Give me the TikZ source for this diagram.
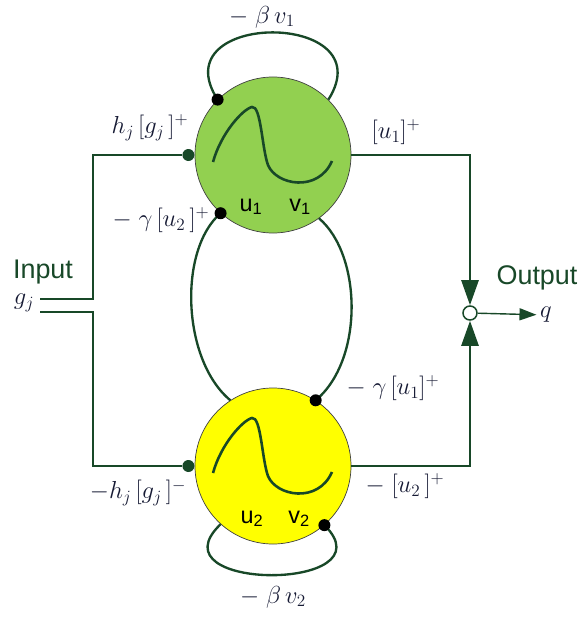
\RequirePackage{fix-cm}
\documentclass[tikz,border=0pt]{standalone}
\usepackage{fontspec}
\newfontfamily\arialfont{Liberation Sans}
\usepackage{xcolor}
\usetikzlibrary{arrows.meta,positioning}
\definecolor{wiregreen}{RGB}{24,72,40}
\definecolor{cellgreen}{RGB}{146,208,80}
\definecolor{cellyellow}{RGB}{255,255,0}
\definecolor{ink}{RGB}{22,26,52}
\tikzset{
  neuron/.style  ={circle,draw=black!75,line width=0.6pt,minimum size=4.68cm,inner sep=0pt},
  wire/.style    ={line width=2.2pt,wiregreen},
  selfloop/.style={line width=2pt,wiregreen},
  bdot/.style    ={circle,fill=black,minimum size=0.36cm,inner sep=0pt},
  wdot/.style    ={circle,fill=wiregreen,minimum size=0.36cm,inner sep=0pt},
  bigtip/.style  ={-{Triangle[length=0.75cm,width=0.51cm]}},
  lbl/.style     ={text=ink,font=\fontsize{21}{25}\selectfont},
  sans/.style    ={text=wiregreen,font=\arialfont\fontsize{23}{27}\selectfont},
  cellname/.style={text=black,font=\arialfont\fontsize{20}{24}\selectfont},
  spikewave/.pic ={\draw[line width=2.2pt,wiregreen]
    (-60,7) .. controls (-52,-22) and (-30,-46) .. (-21,-48)
    .. controls (-12,-50) and (-11,-6) .. (-5,10)
    .. controls (3,30) and (45,38) .. (59,6);},
}

\begin{document}
\begin{tikzpicture}[x=0.03cm,y=-0.03cm]
  \useasboundingbox (0,0) rectangle (582,617);
  % the two cells
  \node[neuron,fill=cellgreen] (n1) at (273,155) {};
  \node[neuron,fill=cellyellow] (n2) at (273,466) {};
  \pic at (n1) {spikewave};
  \pic at (n2) {spikewave};
  \node[cellname] (u1) at (251,207) {u\textsubscript{1}};
  \node[cellname] (v1) at (300,207) {v\textsubscript{1}};
  \node[cellname] (u2) at (252,519) {u\textsubscript{2}};
  \node[cellname] (v2) at (299,519) {v\textsubscript{2}};

  % input side
  \node[wdot,left=0pt of n1] (d1) {};
  \node[wdot,left=0pt of n2] (d2) {};
  \coordinate (in1) at (40,299);  \coordinate (jin1) at (93,299);
  \coordinate (in2) at (40,312);  \coordinate (jin2) at (93,312);
  \draw[wire] (in1) -- (jin1) |- (d1);
  \draw[wire] (in2) -- (jin2) |- (d2);
  \node[sans] (inp) at (43,272) {Input};
  \node[lbl] (gj) at (24,303) {$g_j$};

  % output side
  \node[circle,draw=wiregreen,line width=1.3pt,fill=white,minimum size=0.42cm,inner sep=0pt] (out) at (470,313) {};
  \draw[wire,bigtip] (n1.east) -| (out.north);
  \draw[wire,bigtip] (n2.east) -| (out.south);
  \node[lbl,inner sep=3pt] (q) at (546,315) {$q$};
  \draw[line width=1.2pt,wiregreen,-{Triangle[length=0.51cm,width=0.36cm]}] (out) -- (q);
  \node[sans] (outp) at (537,278) {Output};

  % self loops and cross links
  \draw[selfloop] (n1.135) .. controls (160,10) and (385,10) .. (n1.45);
  \draw[selfloop] (n2.-132) .. controls (150,592) and (392,592) .. (n2.-49);
  \draw[selfloop] (n1.-132) .. controls (178,250) and (182,360) .. (n2.123);
  \draw[selfloop] (n1.-54) .. controls (362,255) and (364,360) .. (n2.57);
  \node[bdot] (s1) at (n1.135) {};
  \node[bdot] (s2) at (n2.-49) {};
  \node[bdot] (c1) at (n1.-132) {};
  \node[bdot] (c2) at (n2.57) {};

  % labels
  \node[lbl] (b1) at (262,17) {$-\;\beta\,v_1$};
  \node[lbl] (hp) at (150,128) {$h_j\,[g_j\,]^+$};
  \node[lbl] (u1p) at (396,132) {$[u_1]^+$};
  \node[lbl] (gu2) at (161,220) {$-\;\gamma\,[u_2\,]^+$};
  \node[lbl] (gu1) at (393,388) {$-\;\gamma\,[u_1]^+$};
  \node[lbl] (u2p) at (405,486) {$-\;[u_2\,]^+$};
  \node[lbl] (hm) at (138,493) {$-h_j\,[g_j\,]^-$};
  \node[lbl] (b2) at (273,597) {$-\;\beta\,v_2$};
\end{tikzpicture}
\end{document}
